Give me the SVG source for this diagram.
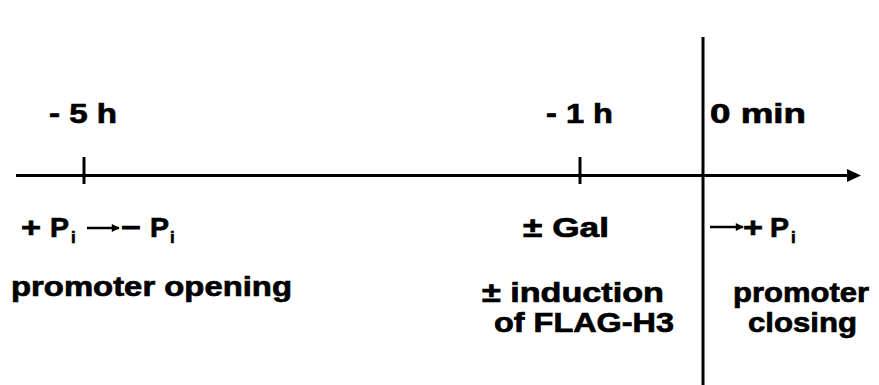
<svg xmlns="http://www.w3.org/2000/svg" width="879" height="385" viewBox="0 0 879 385">
  <style>
    .t { font-family: "Liberation Sans", Arial, sans-serif; font-weight: bold; font-size: 28px; fill: #000; stroke: #000; stroke-width: 0.7; }
    .sub { font-family: "Liberation Sans", Arial, sans-serif; font-weight: bold; font-size: 17px; fill: #000; stroke: #000; stroke-width: 0.6; }
    .axis { stroke: #000; stroke-width: 3; fill: none; }
    .small-arrow { stroke: #000; stroke-width: 2.5; fill: none; marker-end: url(#head-small); }
  </style>
  <defs>
    <marker id="head-small" viewBox="0 0 10 10" refX="9" refY="5" markerWidth="10" markerHeight="8" markerUnits="userSpaceOnUse" orient="auto">
      <path d="M0,0 L10,5 L0,10 z" fill="#000"/>
    </marker>
  </defs>
  <rect width="879" height="385" fill="#fff"/>

  <!-- time axis with ticks and the 0 min line -->
  <g id="connectors">
    <line class="axis" x1="16" y1="175.5" x2="849" y2="175.5"/>
    <polygon points="847,169 861,175.5 847,182" fill="#000"/>
    <line class="axis" x1="84" y1="157" x2="84" y2="184"/>
    <line class="axis" x1="580" y1="157" x2="580" y2="184"/>
    <line class="axis" x1="703" y1="37" x2="703" y2="385"/>
  </g>

  <g id="t-minus5h">
    <text class="t" x="49" y="123" textLength="68" lengthAdjust="spacingAndGlyphs">- 5 h</text>
    <text class="t" x="21" y="237" textLength="20" lengthAdjust="spacingAndGlyphs">+</text>
    <text class="t" x="50" y="237" textLength="19" lengthAdjust="spacingAndGlyphs">P</text>
    <text class="sub" x="71" y="243">i</text>
    <line class="small-arrow" x1="87" y1="228" x2="119" y2="228"/>
    <text class="t" x="121" y="237" textLength="20" lengthAdjust="spacingAndGlyphs">−</text>
    <text class="t" x="150" y="237" textLength="19" lengthAdjust="spacingAndGlyphs">P</text>
    <text class="sub" x="170" y="243">i</text>
    <text class="t" x="11" y="296" textLength="281" lengthAdjust="spacingAndGlyphs">promoter opening</text>
  </g>

  <g id="t-minus1h">
    <text class="t" x="546" y="123" textLength="67" lengthAdjust="spacingAndGlyphs">- 1 h</text>
    <text class="t" x="523" y="237" textLength="86" lengthAdjust="spacingAndGlyphs">± Gal</text>
    <text class="t" x="482" y="302" textLength="182" lengthAdjust="spacingAndGlyphs">± induction</text>
    <text class="t" x="494" y="332" textLength="180" lengthAdjust="spacingAndGlyphs">of FLAG-H3</text>
  </g>

  <g id="t-zero">
    <text class="t" x="710" y="123" textLength="96" lengthAdjust="spacingAndGlyphs">0 min</text>
    <line class="small-arrow" x1="710" y1="227" x2="743" y2="227"/>
    <text class="t" x="743" y="237" textLength="20" lengthAdjust="spacingAndGlyphs">+</text>
    <text class="t" x="770" y="237" textLength="19" lengthAdjust="spacingAndGlyphs">P</text>
    <text class="sub" x="791" y="243">i</text>
    <text class="t" x="733" y="302" textLength="136" lengthAdjust="spacingAndGlyphs">promoter</text>
    <text class="t" x="748" y="332" textLength="109" lengthAdjust="spacingAndGlyphs">closing</text>
  </g>
</svg>
